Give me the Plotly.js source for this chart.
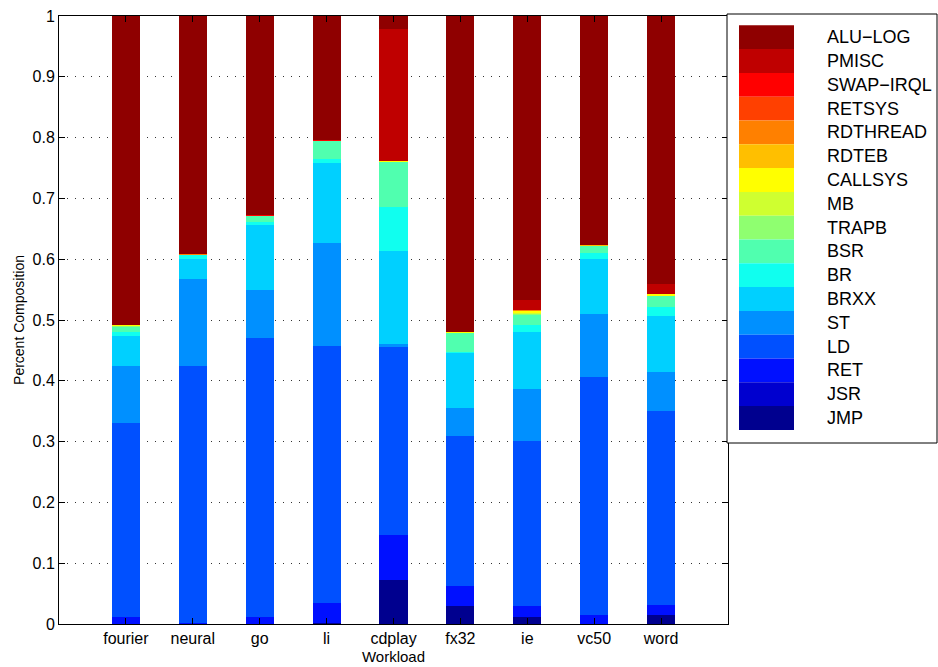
<!DOCTYPE html>
<html>
<head>
<meta charset="utf-8">
<script src="https://cdn.plot.ly/plotly-3.0.1.min.js"></script>
<style>
  html, body { margin: 0; padding: 0; background: #fff; }
  #chart { width: 938px; height: 667px; }
</style>
</head>
<body>
<div id="chart"></div>
<script>
// Categories (workloads)
const workloads = ["fourier", "neural", "go", "li", "cdplay", "fx32", "ie", "vc50", "word"];

// Series values (fraction of instructions), bottom of stack first
const JMP      = [0.000, 0.000, 0.000, 0.002, 0.072, 0.030, 0.011, 0.000, 0.014];
const JSR      = [0.000, 0.000, 0.000, 0.000, 0.000, 0.000, 0.000, 0.000, 0.000];
const RET      = [0.012, 0.002, 0.012, 0.032, 0.075, 0.032, 0.019, 0.014, 0.018];
const LD       = [0.318, 0.422, 0.459, 0.423, 0.308, 0.248, 0.271, 0.392, 0.319];
const ST       = [0.094, 0.144, 0.078, 0.169, 0.006, 0.046, 0.086, 0.104, 0.063];
const BRXX     = [0.050, 0.033, 0.108, 0.133, 0.153, 0.090, 0.094, 0.091, 0.092];
const BR       = [0.007, 0.006, 0.004, 0.006, 0.072, 0.002, 0.011, 0.010, 0.016];
const BSR      = [0.007, 0.000, 0.010, 0.030, 0.074, 0.031, 0.016, 0.010, 0.018];
const TRAPB    = [0.002, 0.000, 0.000, 0.000, 0.000, 0.000, 0.002, 0.000, 0.000];
const MB       = [0.000, 0.000, 0.000, 0.000, 0.000, 0.000, 0.002, 0.000, 0.000];
const CALLSYS  = [0.001, 0.000, 0.000, 0.000, 0.002, 0.001, 0.002, 0.000, 0.002];
const RDTEB    = [0.000, 0.000, 0.000, 0.000, 0.000, 0.000, 0.001, 0.002, 0.000];
const RDTHREAD = [0.000, 0.001, 0.000, 0.000, 0.000, 0.001, 0.001, 0.000, 0.000];
const RETSYS   = [0.000, 0.000, 0.000, 0.000, 0.000, 0.000, 0.001, 0.000, 0.000];
const SWAPIRQL = [0.000, 0.000, 0.001, 0.001, 0.000, 0.000, 0.000, 0.000, 0.000];
const PMISC    = [0.000, 0.000, 0.000, 0.000, 0.216, 0.000, 0.016, 0.000, 0.018];
const ALULOG   = [0.509, 0.392, 0.328, 0.204, 0.022, 0.519, 0.467, 0.377, 0.440];

// Series names (bottom of stack first)
const seriesNames = ["JMP", "JSR", "RET", "LD", "ST", "BRXX", "BR", "BSR", "TRAPB", "MB",
                     "CALLSYS", "RDTEB", "RDTHREAD", "RETSYS", "SWAP\u2212IRQL", "PMISC", "ALU\u2212LOG"];
const seriesValues = [JMP, JSR, RET, LD, ST, BRXX, BR, BSR, TRAPB, MB,
                      CALLSYS, RDTEB, RDTHREAD, RETSYS, SWAPIRQL, PMISC, ALULOG];
const seriesColors = ["#00008f", "#0000cf", "#0010ff", "#0050ff", "#0090ff", "#00d0ff", "#10ffef",
                      "#50ffaf", "#8fff70", "#cfff30", "#ffff00", "#ffbf00", "#ff8000", "#ff4000",
                      "#ff0000", "#bf0000", "#8f0000"];

// y tick values
const yTicks = [0, 0.1, 0.2, 0.3, 0.4, 0.5, 0.6, 0.7, 0.8, 0.9, 1];

const FONT = "Liberation Sans, Arial, Helvetica, sans-serif";

const traces = seriesNames.map((name, i) => ({
  type: "bar",
  name: name,
  x: workloads,
  y: seriesValues[i],
  width: 0.42,
  marker: { color: seriesColors[i], line: { width: 0 } },
  showlegend: false,
  hoverinfo: "name+y"
}));

// Plot area in pixels
const L = 59, R = 728, T = 16, B = 624;
const W = R - L, H = B - T;
const px = v => (v - L) / W;
const py = v => (B - v) / H;

// Custom legend (big contiguous swatches, top entry = top of stack)
const shapes = [];
const annotations = [];
shapes.push({
  type: "rect", xref: "paper", yref: "paper", layer: "above",
  x0: px(727), x1: px(937), y0: py(443), y1: py(14),
  line: { color: "#000", width: 1 }, fillcolor: "#fff"
});
const rowH = 23.8, top0 = 25.3;
const legendOrder = seriesNames.map((_, i) => i).reverse();
legendOrder.forEach((si, k) => {
  const y0 = top0 + k * rowH;
  shapes.push({
    type: "rect", xref: "paper", yref: "paper", layer: "above",
    x0: px(739), x1: px(794), y0: py(y0 + rowH), y1: py(y0),
    line: { width: 0 }, fillcolor: seriesColors[si]
  });
  annotations.push({
    xref: "paper", yref: "paper", x: px(825), y: py(y0 + rowH / 2),
    xanchor: "left", yanchor: "middle", showarrow: false,
    text: seriesNames[si],
    font: { family: FONT, size: 18, color: "#000" }
  });
});

const layout = {
  width: 938, height: 667,
  margin: { l: L, r: 938 - R, t: T, b: 667 - B, pad: 0 },
  paper_bgcolor: "#fff", plot_bgcolor: "#fff",
  barmode: "stack",
  bargap: 0,
  font: { family: FONT, size: 15, color: "#000" },
  xaxis: {
    type: "category",
    range: [-1, 9],
    showline: true, linecolor: "#000", linewidth: 1, mirror: "allticks",
    ticks: "inside", ticklen: 6, tickcolor: "#000",
    showgrid: false, zeroline: false,
    tickfont: { family: FONT, size: 16, color: "#000" },
    title: { text: "Workload", font: { family: FONT, size: 15, color: "#000" }, standoff: 5 },
    fixedrange: true
  },
  yaxis: {
    range: [0, 1],
    tickvals: yTicks,
    ticktext: yTicks.map(v => String(v)),
    showline: true, linecolor: "#000", linewidth: 1, mirror: "allticks",
    ticks: "inside", ticklen: 6, tickcolor: "#000",
    showgrid: true, gridcolor: "#333", gridwidth: 1, griddash: "1px,7px",
    zeroline: false,
    tickfont: { family: FONT, size: 16, color: "#000" },
    title: { text: "Percent Composition", font: { family: FONT, size: 14, color: "#000" }, standoff: 4 },
    fixedrange: true
  },
  shapes: shapes,
  annotations: annotations,
  showlegend: false
};

Plotly.newPlot("chart", traces, layout, { displayModeBar: false, staticPlot: true });
</script>
</body>
</html>
